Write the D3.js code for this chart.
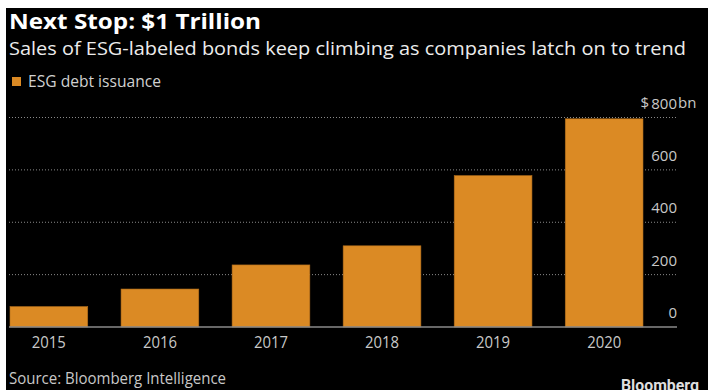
<!DOCTYPE html>
<html>
<head>
<meta charset="utf-8">
<script src="https://cdn.jsdelivr.net/npm/d3@7"></script>
<style>
  html, body { margin: 0; padding: 0; background: #fff; }
  svg { display: block; }
</style>
</head>
<body>
<svg id="chart" width="708" height="390"></svg>
<script>
// ESG-labeled bond sales by year, $bn
const years = ["2015", "2016", "2017", "2018", "2019", "2020"];
const issuance = [78, 145, 237, 310, 578, 795];
const yTicks = [0, 200, 400, 600, 800];

const title = "Next Stop: $1 Trillion";
const subtitle = "Sales of ESG-labeled bonds keep climbing as companies latch on to trend";
const legendLabel = "ESG debt issuance";
const sourceText = "Source: Bloomberg Intelligence";

const W = 708, H = 390;
const barColor = "#db8a24";
const textFont = "'Open Sans', 'Noto Sans', sans-serif";

const svg = d3.select("#chart");

// dark panel
svg.append("rect").attr("x", 6).attr("y", 8).attr("width", W - 6).attr("height", H - 8).attr("fill", "#000");

const x = d3.scaleBand().domain(years).range([10, 643]).paddingInner(0.3).paddingOuter(0);
const y = d3.scaleLinear().domain([0, 800]).range([327, 117.5]);

const gridLeft = 9, gridRight = 677;

// dotted gridlines
svg.append("g").selectAll("line").data(yTicks.filter(d => d > 0)).join("line")
  .attr("x1", gridLeft).attr("x2", gridRight)
  .attr("y1", d => y(d)).attr("y2", d => y(d))
  .attr("stroke", "#8a8a8a").attr("stroke-width", 1)
  .attr("stroke-dasharray", "1,2");

// bars
svg.append("g").selectAll("rect").data(years).join("rect")
  .attr("x", d => x(d))
  .attr("width", x.bandwidth())
  .attr("y", (d, i) => y(issuance[i]))
  .attr("height", (d, i) => y(0) - y(issuance[i]))
  .attr("fill", barColor)
  .attr("stroke", "#b06d1c").attr("stroke-width", 0.6);

// baseline
svg.append("line").attr("x1", gridLeft).attr("x2", gridRight)
  .attr("y1", y(0)).attr("y2", y(0))
  .attr("stroke", "#8a8a8a").attr("stroke-width", 1.5);

// y-axis labels, sitting above their gridlines
const yAxis = d3.axisRight(y).tickValues(yTicks).tickSize(0).tickPadding(0);
const yg = svg.append("g").attr("transform", `translate(${gridRight},0)`).call(yAxis);
yg.select(".domain").remove();
yg.selectAll("text")
  .attr("text-anchor", "end")
  .attr("x", 0).attr("dy", 0)
  .attr("y", -9.5)
  .attr("fill", "#c8c8c8")
  .attr("font-family", textFont)
  .attr("font-size", 15);

// currency prefix and unit suffix on the top label
svg.append("text").attr("x", 649).attr("y", y(800) - 9.5)
  .attr("text-anchor", "end").attr("fill", "#c8c8c8")
  .attr("font-family", textFont).attr("font-size", 15).text("$");
svg.append("text").attr("x", 678).attr("y", y(800) - 9.5)
  .attr("fill", "#c8c8c8")
  .attr("font-family", textFont).attr("font-size", 15).text("bn");

// x-axis labels
const xAxis = d3.axisBottom(x).tickSize(0).tickPadding(0);
const xg = svg.append("g").attr("transform", `translate(0,${y(0)})`).call(xAxis);
xg.select(".domain").remove();
xg.selectAll("text")
  .attr("dy", 0).attr("y", 21)
  .attr("fill", "#c8c8c8")
  .attr("font-family", textFont)
  .attr("font-size", 16)
  .attr("textLength", 34).attr("lengthAdjust", "spacingAndGlyphs");

// title block
svg.append("text").attr("x", 9).attr("y", 29)
  .attr("fill", "#fff").attr("font-family", textFont)
  .attr("font-weight", "bold").attr("font-size", 21)
  .attr("textLength", 252).attr("lengthAdjust", "spacingAndGlyphs")
  .text(title);

svg.append("text").attr("x", 9).attr("y", 55)
  .attr("fill", "#ececec").attr("font-family", textFont)
  .attr("font-size", 19)
  .attr("textLength", 677).attr("lengthAdjust", "spacingAndGlyphs")
  .text(subtitle);

// legend
svg.append("rect").attr("x", 12).attr("y", 77).attr("width", 9).attr("height", 9).attr("fill", barColor);
svg.append("text").attr("x", 28).attr("y", 87)
  .attr("fill", "#d0d0d0").attr("font-family", textFont)
  .attr("font-size", 16)
  .attr("textLength", 133).attr("lengthAdjust", "spacingAndGlyphs")
  .text(legendLabel);

// footer
svg.append("text").attr("x", 9).attr("y", 384)
  .attr("fill", "#c8c8c8").attr("font-family", textFont)
  .attr("font-size", 16)
  .attr("textLength", 217).attr("lengthAdjust", "spacingAndGlyphs")
  .text(sourceText);

svg.append("text").attr("x", 621).attr("y", 391)
  .attr("fill", "#dedede").attr("font-family", "'Roboto', 'Open Sans', sans-serif")
  .attr("font-weight", "bold").attr("font-size", 16)
  .attr("textLength", 78).attr("lengthAdjust", "spacingAndGlyphs")
  .text("Bloomberg");
</script>
</body>
</html>
